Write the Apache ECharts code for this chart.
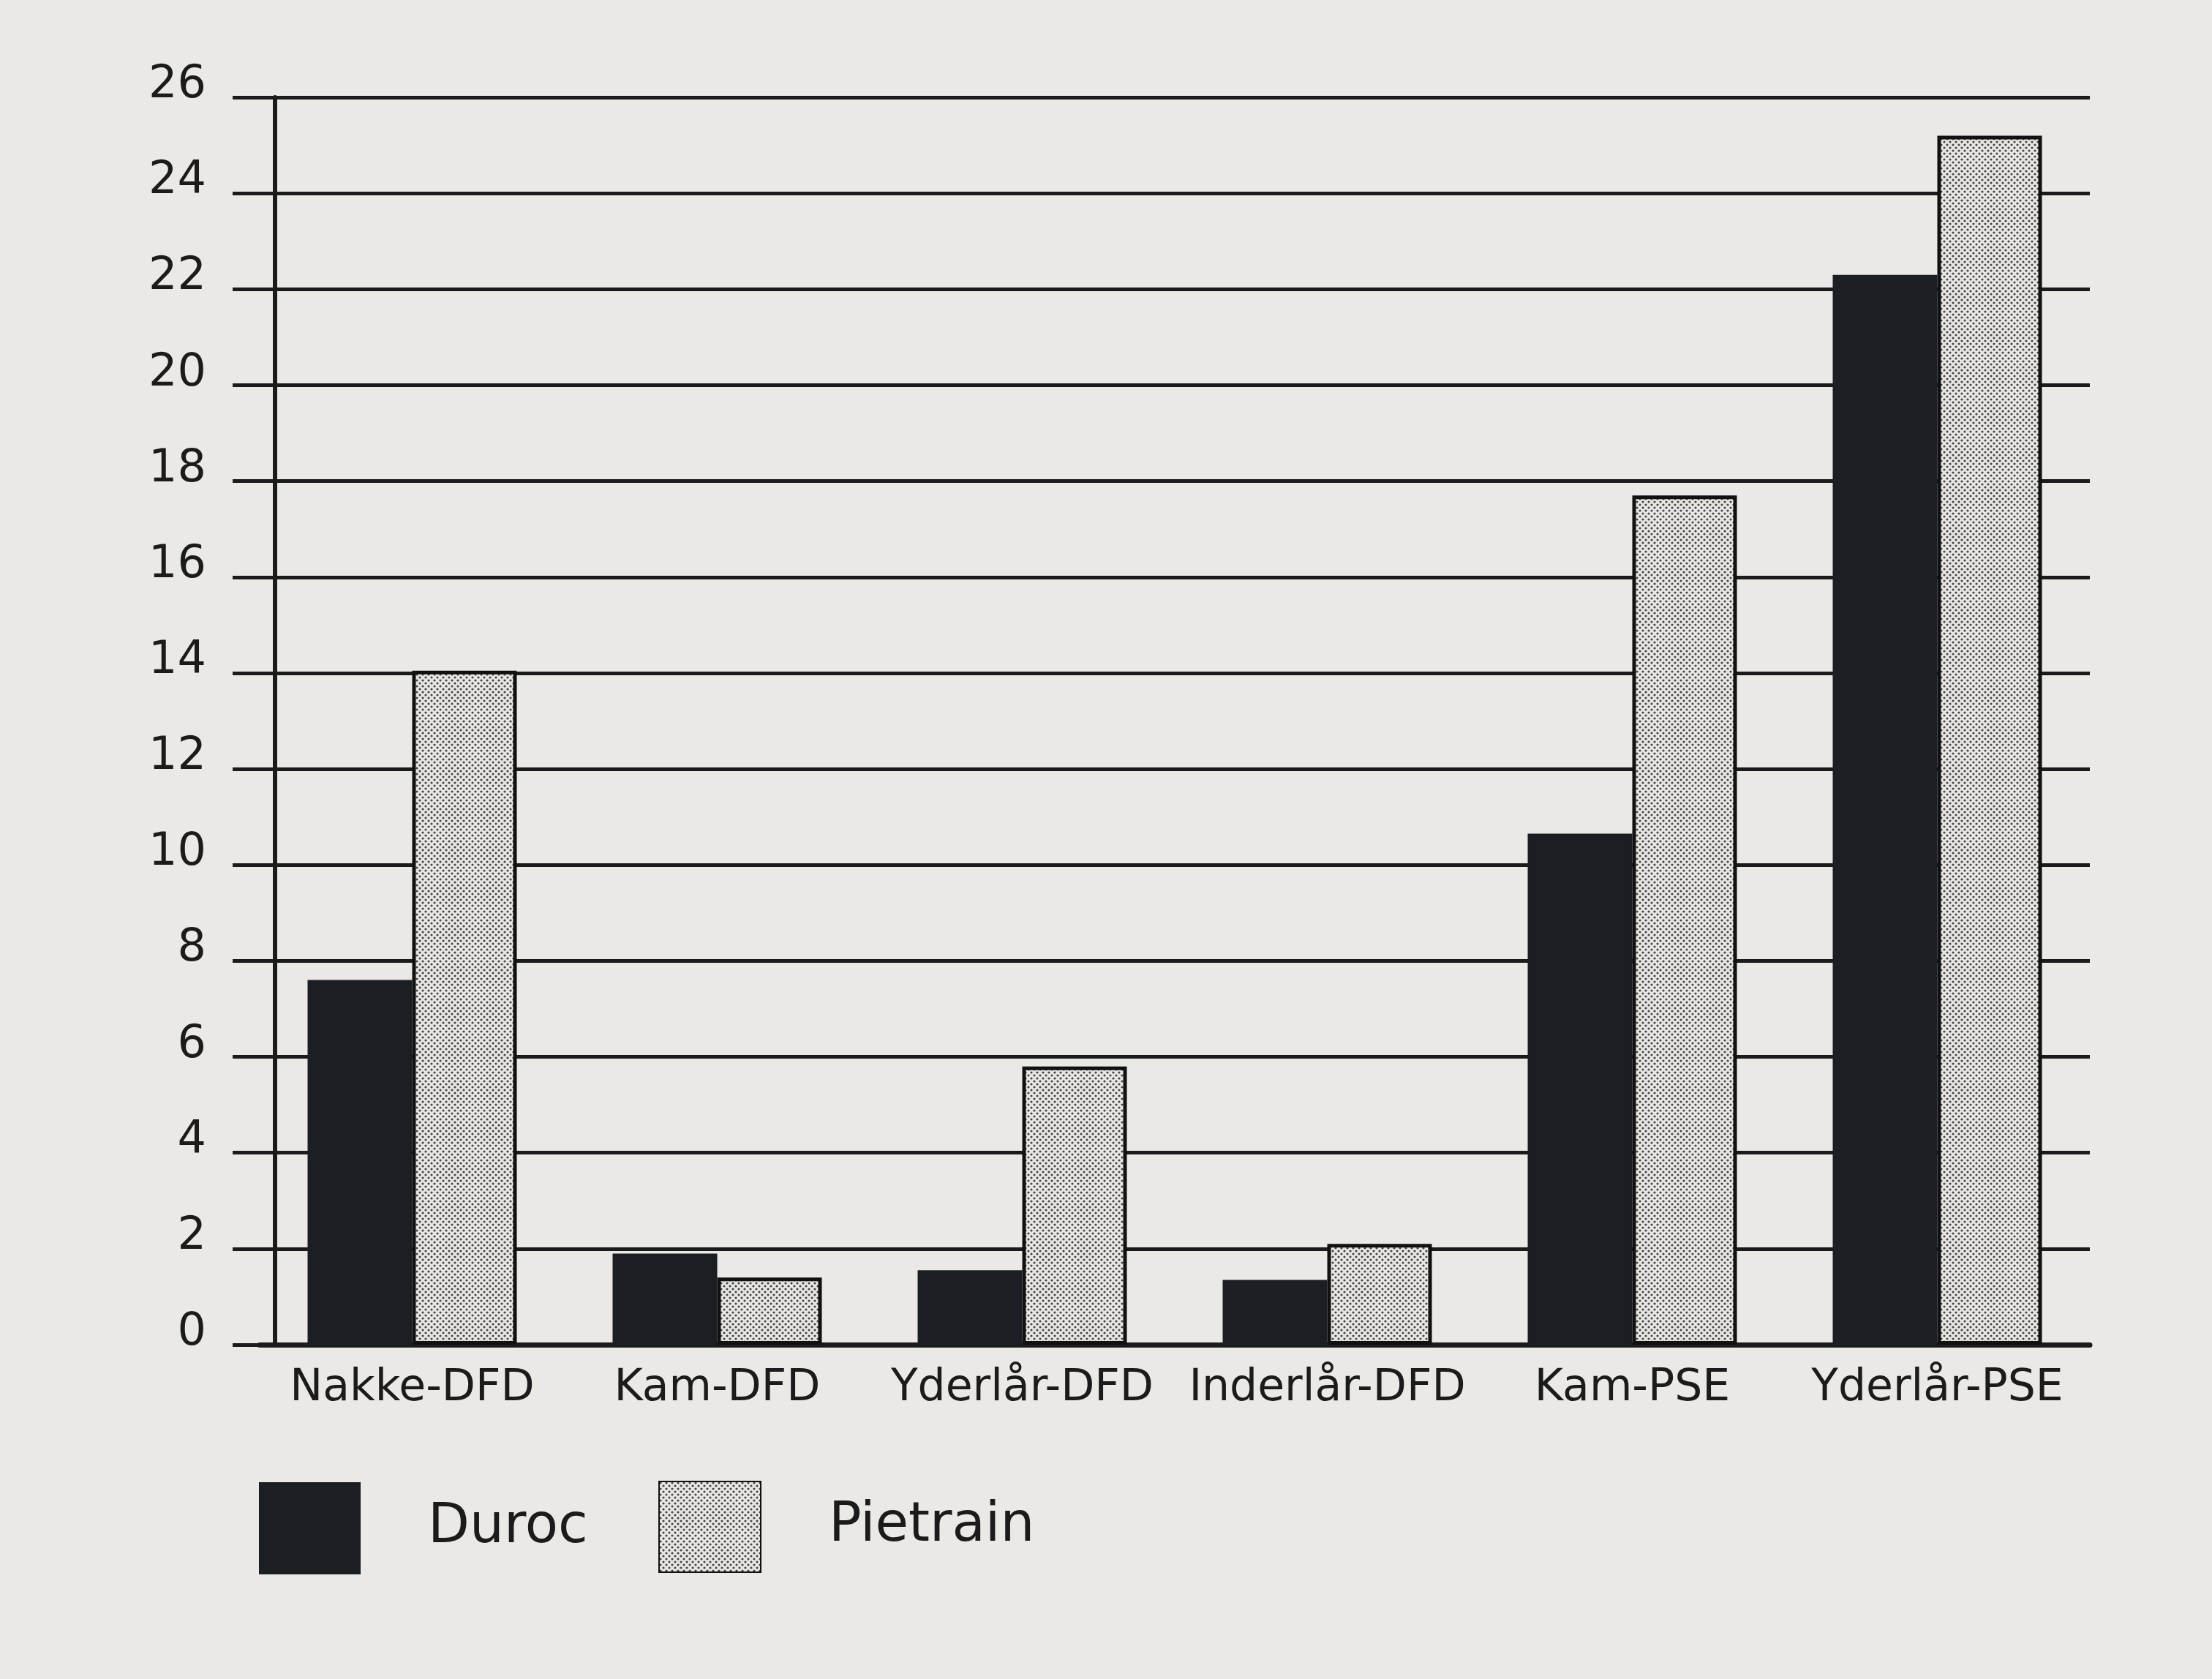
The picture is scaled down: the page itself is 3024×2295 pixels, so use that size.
<!DOCTYPE html>
<html>
<head>
<meta charset="utf-8">
<script src="https://cdn.jsdelivr.net/npm/echarts@6/dist/echarts.min.js"></script>
<style>
html,body{margin:0;padding:0;background:#ebe9e5;}
#chart{width:3024px;height:2295px;}
</style>
</head>
<body>
<div id="chart"></div>
<script>
const categories = ['Nakke-DFD', 'Kam-DFD', 'Yderlår-DFD', 'Inderlår-DFD', 'Kam-PSE', 'Yderlår-PSE'];
const durocValues = [7.6, 1.9, 1.55, 1.35, 10.65, 22.3];
const pietrainValues = [14.05, 1.4, 5.8, 2.1, 17.7, 25.2];
const yTicks = [0, 2, 4, 6, 8, 10, 12, 14, 16, 18, 20, 22, 24, 26];

function makePattern() {
  const c = document.createElement('canvas');
  c.width = 8; c.height = 8;
  const g = c.getContext('2d');
  g.fillStyle = '#e8e7e3';
  g.fillRect(0, 0, 8, 8);
  g.fillStyle = '#444444';
  [[2, 2], [6, 6]].forEach(p => {
    g.beginPath(); g.arc(p[0], p[1], 1.6, 0, Math.PI * 2); g.fill();
  });
  return c;
}
const pattern = { image: makePattern(), repeat: 'repeat' };
const dark = '#1b1f24';
const ink = '#1b1b1b';

const chart = echarts.init(document.getElementById('chart'));
chart.setOption({
  backgroundColor: '#ebe9e5',
  animation: false,
  grid: { left: 355, right: 167, top: 133, bottom: 457 },
  legend: [
    {
      data: ['Duroc'], left: 349, top: 2021, orient: 'horizontal',
      itemWidth: 137, itemHeight: 124, icon: 'rect',
      textStyle: { fontFamily: 'DejaVu Sans', fontSize: 74, color: ink, padding: [0, 0, 0, 88] }
    },
    {
      data: ['Pietrain'], left: 895, top: 2019, orient: 'horizontal',
      itemWidth: 139, itemHeight: 124, icon: 'rect',
      textStyle: { fontFamily: 'DejaVu Sans', fontSize: 74, color: ink, padding: [0, 0, 0, 88] }
    }
  ],
  xAxis: {
    type: 'category',
    data: categories,
    axisLine: { show: true, lineStyle: { color: ink, width: 7 } },
    axisTick: { show: false },
    axisLabel: { fontFamily: 'DejaVu Sans', fontSize: 60, color: ink, margin: 30, interval: 0 },
    splitLine: { show: false }
  },
  yAxis: {
    type: 'value',
    min: yTicks[0],
    max: yTicks[yTicks.length - 1],
    interval: 2,
    offset: -21,
    axisLine: { show: true, lineStyle: { color: ink, width: 6 } },
    axisTick: { show: true, length: 58, lineStyle: { color: ink, width: 5 } },
    axisLabel: {
      fontFamily: 'DejaVu Sans', fontSize: 62, color: ink, margin: 94,
      verticalAlign: 'bottom', lineHeight: 32
    },
    splitLine: { show: true, lineStyle: { color: ink, width: 5 } }
  },
  series: [
    {
      name: 'Duroc', type: 'bar', data: durocValues,
      barWidth: 143, barGap: '0%',
      itemStyle: { color: dark, borderColor: dark, borderWidth: 2 }
    },
    {
      name: 'Pietrain', type: 'bar', data: pietrainValues,
      barWidth: 143,
      itemStyle: { color: pattern, borderColor: '#111', borderWidth: 5 }
    }
  ]
});
</script>
</body>
</html>
